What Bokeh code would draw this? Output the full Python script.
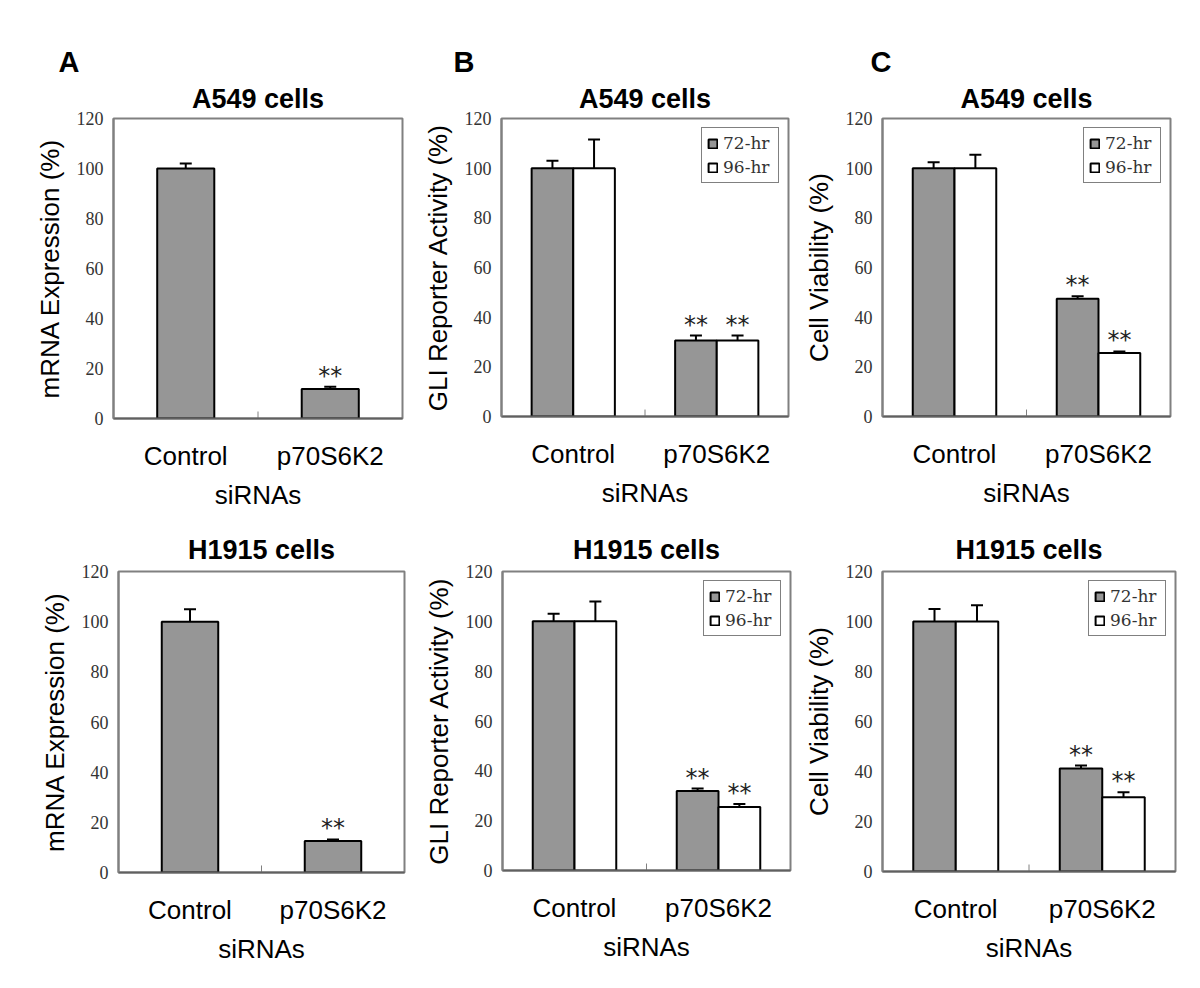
from bokeh.plotting import figure
from bokeh.layouts import row, column
from bokeh.models import (ColumnDataSource, FactorRange, Range1d, Whisker, TeeHead,
                          Legend, FixedTicker, Title)
from bokeh.transform import dodge
from bokeh.core.properties import value
from bokeh.embed import file_html
from bokeh.resources import INLINE

# ---------------- data ----------------
categories = ["Control", "p70S6K2"]
series = ["72-hr", "96-hr"]
y_ticks = [0, 20, 40, 60, 80, 100, 120]

# Panel A : mRNA expression (%)
a549_mrna = [100, 11.8]
a549_mrna_err = [2.0, 0.9]
a549_mrna_star = ["", "**"]
h1915_mrna = [100, 12.6]
h1915_mrna_err = [5.0, 0.6]
h1915_mrna_star = ["", "**"]

# Panel B : GLI reporter activity (%)
a549_gli_72 = [100, 30.6]
a549_gli_72_err = [3.0, 2.0]
a549_gli_96 = [100, 30.6]
a549_gli_96_err = [11.5, 2.0]
a549_gli_star = ["", "**"]
h1915_gli_72 = [100, 31.9]
h1915_gli_72_err = [3.0, 1.0]
h1915_gli_96 = [100, 25.5]
h1915_gli_96_err = [8.0, 1.2]
h1915_gli_star = ["", "**"]

# Panel C : cell viability (%)
a549_via_72 = [100, 47.4]
a549_via_72_err = [2.4, 1.0]
a549_via_96 = [100, 25.6]
a549_via_96_err = [5.4, 0.6]
a549_via_star = ["", "**"]
h1915_via_72 = [100, 41.2]
h1915_via_72_err = [5.0, 1.2]
h1915_via_96 = [100, 29.7]
h1915_via_96_err = [6.5, 2.0]
h1915_via_star = ["", "**"]

GRAY = "#969696"
FRAME = "#808080"


def base_fig(geom, title, title_standoff, ylabel, letter=None, letter_offset=0):
    bl, fw, br, bt, fh, bb = geom
    p = figure(x_range=FactorRange(factors=categories, range_padding=0),
               y_range=Range1d(0, 120),
               frame_width=fw, frame_height=fh,
               min_border_left=bl, min_border_right=br,
               min_border_top=bt, min_border_bottom=bb,
               output_backend="svg", toolbar_location=None, tools="",
               title=None)
    # first item in "above" sits closest to the frame
    p.add_layout(Title(text=title, align="center", text_font="Liberation Sans",
                       text_font_size="27px", text_font_style="bold",
                       text_color="black", standoff=title_standoff), "above")
    if letter:
        p.add_layout(Title(text=letter, align="left", offset=letter_offset,
                           text_font="Liberation Sans", text_font_size="29px",
                           text_font_style="bold", text_color="black", standoff=0),
                     "above")
    p.grid.visible = False
    p.outline_line_color = FRAME
    p.outline_line_width = 2
    p.outline_line_alpha = 1
    p.background_fill_color = "white"
    p.border_fill_color = "white"

    ya = p.yaxis[0]
    ya.ticker = FixedTicker(ticks=y_ticks)
    ya.major_label_text_font = "Liberation Serif"
    ya.major_label_text_font_size = "18px"
    ya.major_label_text_color = "#333333"
    ya.major_tick_out = 0
    ya.major_tick_in = 0
    ya.minor_tick_out = 0
    ya.minor_tick_in = 0
    ya.axis_line_color = FRAME
    ya.axis_line_width = 2
    ya.major_label_standoff = 10
    ya.axis_label = ylabel
    ya.axis_label_text_font = "Liberation Sans"
    ya.axis_label_text_font_size = "26px"
    ya.axis_label_text_font_style = "normal"
    ya.axis_label_text_color = "black"
    ya.axis_label_standoff = 9

    xa = p.xaxis[0]
    xa.major_label_text_font = "Liberation Sans"
    xa.major_label_text_font_size = "26px"
    xa.major_label_text_color = "black"
    xa.major_label_standoff = 22
    xa.major_tick_out = 0
    xa.major_tick_in = 0
    xa.axis_line_color = "#606060"
    xa.axis_line_width = 2
    xa.axis_label = "siRNAs"
    xa.axis_label_text_font = "Liberation Sans"
    xa.axis_label_text_font_size = "26px"
    xa.axis_label_text_font_style = "normal"
    xa.axis_label_text_color = "black"
    xa.axis_label_standoff = 6

    # small tick between the two categories
    tsrc = ColumnDataSource(dict(c=categories[:1]))
    p.segment(x0=dodge("c", 0.5, range=p.x_range), y0=0,
              x1=dodge("c", 0.5, range=p.x_range), y1=2.8,
              source=tsrc, line_color=FRAME, line_width=1)
    return p


def add_series(p, vals, errs, stars, offset, width, fill):
    src = ColumnDataSource(dict(cat=categories, val=vals,
                                upper=[v + e for v, e in zip(vals, errs)],
                                star=stars))
    xs = dodge("cat", offset, range=p.x_range)
    r = p.vbar(x=xs, top="val", bottom=0, width=width, source=src,
               fill_color=fill, line_color="black", line_width=2)
    w = Whisker(base=xs, upper="upper", lower="val", source=src,
                line_color="black", line_width=2,
                upper_head=TeeHead(size=12, line_color="black", line_width=2),
                lower_head=None, level="glyph")
    p.add_layout(w)
    p.text(x=xs, y="upper", text="star", source=src,
           text_font=value("DejaVu Sans"), text_font_size=value("24px"),
           text_color="#222222", text_align="center", text_baseline="alphabetic",
           y_offset=-11)
    return r


def add_legend(p, r1, r2):
    leg = Legend(items=[(series[0], [r1]), (series[1], [r2])],
                 location="top_right", label_text_font="DejaVu Serif",
                 label_text_font_size="17px", label_text_color="#333333",
                 glyph_width=11, glyph_height=11, label_standoff=5,
                 label_width=50, label_height=20, spacing=4, padding=5,
                 margin=9, border_line_color=FRAME, border_line_width=1,
                 border_line_alpha=1, background_fill_alpha=1)
    p.add_layout(leg)


# geometry: (border_left, frame_w, border_right, border_top, frame_h, border_bottom)
pa1 = base_fig((113, 289, 6, 118, 300, 92), "A549 cells", 9, "mRNA Expression (%)", "A", -55)
add_series(pa1, a549_mrna, a549_mrna_err, a549_mrna_star, 0, 0.395, GRAY)

pb1 = base_fig((93, 287, 12, 118, 298, 94), "A549 cells", 9, "GLI Reporter Activity (%)", "B", -48)
r1 = add_series(pb1, a549_gli_72, a549_gli_72_err, a549_gli_star, -0.145, 0.29, GRAY)
r2 = add_series(pb1, a549_gli_96, a549_gli_96_err, a549_gli_star, 0.145, 0.29, "white")
add_legend(pb1, r1, r2)

pc1 = base_fig((79, 288, 17, 117, 298, 95), "A549 cells", 9, "Cell Viability (%)", "C", -12)
r1 = add_series(pc1, a549_via_72, a549_via_72_err, a549_via_star, -0.145, 0.29, GRAY)
r2 = add_series(pc1, a549_via_96, a549_via_96_err, a549_via_star, 0.145, 0.29, "white")
add_legend(pc1, r1, r2)

pa2 = base_fig((118, 286, 4, 59, 301, 92), "H1915 cells", 14, "mRNA Expression (%)")
add_series(pa2, h1915_mrna, h1915_mrna_err, h1915_mrna_star, 0, 0.395, GRAY)

pb2 = base_fig((94, 288, 10, 56, 299, 95), "H1915 cells", 14, "GLI Reporter Activity (%)")
r1 = add_series(pb2, h1915_gli_72, h1915_gli_72_err, h1915_gli_star, -0.145, 0.29, GRAY)
r2 = add_series(pb2, h1915_gli_96, h1915_gli_96_err, h1915_gli_star, 0.145, 0.29, "white")
add_legend(pb2, r1, r2)

pc2 = base_fig((78, 293, 13, 55, 300, 95), "H1915 cells", 14, "Cell Viability (%)")
r1 = add_series(pc2, h1915_via_72, h1915_via_72_err, h1915_via_star, -0.145, 0.29, GRAY)
r2 = add_series(pc2, h1915_via_96, h1915_via_96_err, h1915_via_star, 0.145, 0.29, "white")
add_legend(pc2, r1, r2)

layout = column(row(pa1, pb1, pc1, spacing=0), row(pa2, pb2, pc2, spacing=0), spacing=0)

open("out.html", "w").write(file_html(layout, INLINE))
